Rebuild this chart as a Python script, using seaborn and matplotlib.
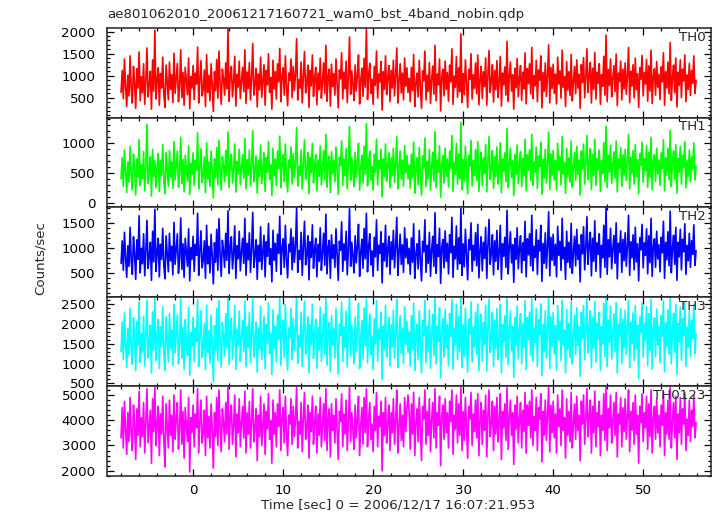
import numpy as np
import matplotlib
matplotlib.use("Agg")
import matplotlib.pyplot as plt
from matplotlib.ticker import MultipleLocator, AutoMinorLocator
import seaborn as sns

# light curve, 0.125 s bins starting at -8 s
t_start = -8.0
bin_width = 0.125

th0 = [620, 1120, 480, 1380, 760, 300, 1010, 540, 1450, 690, 380, 1210, 850, 260, 1160, 720,
       1540, 430, 980, 610, 1270, 350, 900, 1630, 520, 790, 1100, 240, 1360, 650, 2030, 470,
       880, 1180, 330, 1050, 720, 1420, 560, 280, 1240, 830, 450, 1310, 690, 1020, 390, 1510,
       600, 940, 1280, 410, 760, 1590, 500, 1070, 330, 1190, 870, 570, 1400, 250, 980, 720,
       1230, 460, 1060, 810, 1650, 380, 920, 1340, 540, 700, 1130, 300, 1480, 620, 1010, 430,
       1270, 780, 190, 1090, 660, 1370, 490, 1560, 820, 350, 1150, 930, 560, 1290, 700, 2050,
       420, 990, 1210, 520, 860, 1440, 310, 1030, 740, 1330, 480, 890, 1190, 640, 1590, 370,
       1080, 710, 1300, 450, 950, 1730, 560, 820, 1160, 290, 1040, 680, 1420, 510, 870, 1250,
       330, 1120, 790, 1500, 620, 960, 240, 1350, 700, 1090, 470, 1270, 860, 1620, 410, 980,
       1180, 560, 1450, 740, 320, 1060, 890, 1380, 500, 1210, 660, 1030, 1840, 450, 910, 720,
       1310, 380, 1000, 1550, 610, 830, 1240, 280, 1120, 770, 1470, 530, 950, 1190, 340, 1060,
       680, 1400, 490, 870, 1290, 600, 1690, 420, 990, 1150, 310, 1260, 750, 1050, 560, 1380,
       820, 270, 1130, 930, 1520, 470, 1080, 700, 1330, 390, 960, 1880, 580, 1110, 810, 440,
       1240, 650, 1020, 1470, 360, 890, 1170, 530, 1390, 740, 2070, 460, 1010, 1280, 600, 920,
       350, 1210, 780, 1560, 490, 1040, 860, 1320, 220, 1090, 690, 1450, 570, 950, 1230, 410,
       1120, 720, 1350, 540, 1000, 1630, 380, 870, 1270, 610, 1060, 450, 1400, 760, 1180, 620,
       940, 410, 1190, 660, 1480, 300, 830, 1060, 520, 1350, 720, 260, 1110, 880, 1560, 450,
       1010, 640, 1300, 370, 910, 1220, 580, 1690, 430, 1040, 790, 1380, 200, 970, 1150, 540,
       1330, 690, 1070, 420, 1240, 860, 1610, 350, 990, 740, 1430, 510, 1180, 630, 1950, 390,
       1050, 570, 1360, 800, 280, 1140, 920, 1500, 470, 1020, 710, 1290, 590, 1470, 340, 900,
       1210, 480, 1090, 750, 1400, 330, 1000, 1570, 620, 850, 1250, 400, 1120, 680, 1340, 510,
       870, 1440, 310, 1060, 790, 1200, 560, 1780, 420, 960, 1310, 650, 1020, 240, 1170, 730,
       1390, 520, 940, 1230, 440, 1080, 700, 1520, 360, 1160, 820, 1270, 590, 1640, 480, 1000,
       770, 1350, 410, 1130, 900, 1450, 270, 1070, 640, 1290, 530, 1010, 1700, 380, 1190, 710,
       1260, 600, 1040, 360, 1420, 810, 1110, 490, 1580, 740, 980, 300, 1320, 670, 1090, 550,
       1480, 430, 870, 1210, 590, 1360, 720, 1030, 260, 1250, 840, 1410, 500, 950, 1610, 620,
       1000, 1300, 380, 1170, 690, 1530, 470, 1080, 830, 1270, 350, 1020, 760, 1440, 560, 1920,
       410, 1140, 780, 1380, 520, 930, 1230, 640, 1490, 320, 1060, 870, 1330, 450, 1150, 700,
       1290, 580, 1010, 1640, 390, 1100, 760, 1250, 500, 1400, 680, 1050, 280, 1180, 920, 1460,
       540, 1070, 810, 1370, 420, 1220, 650, 1580, 370, 990, 1160, 560, 1320, 740, 1030, 460,
       1200, 860, 1520, 330, 1090, 720, 1310, 590, 1750, 440, 960, 1240, 610, 1400, 290, 1080,
       780, 1360, 500, 1150, 880, 1470, 410, 1020, 690, 1280, 550, 1120, 830, 1450, 600, 900]

th1 = [410, 760, 280, 890, 520, 180, 690, 350, 950, 470, 230, 820, 600, 140, 740, 430,
       1060, 300, 650, 410, 860, 210, 580, 1320, 330, 540, 780, 120, 900, 450, 710, 260,
       620, 830, 200, 720, 470, 980, 360, 160, 850, 560, 290, 880, 440, 690, 250, 1030,
       390, 640, 870, 270, 510, 1100, 330, 730, 190, 800, 590, 370, 960, 150, 670, 480,
       840, 300, 720, 550, 1180, 240, 620, 910, 350, 470, 770, 180, 1010, 410, 690, 280,
       870, 520, 90, 740, 430, 930, 310, 1050, 560, 220, 780, 630, 360, 880, 460, 1190,
       270, 680, 820, 340, 580, 990, 190, 700, 490, 900, 310, 610, 810, 420, 1080, 240,
       730, 470, 890, 290, 650, 1210, 360, 550, 790, 170, 710, 450, 970, 330, 590, 850,
       200, 760, 520, 1030, 400, 650, 130, 920, 460, 740, 300, 870, 580, 1120, 260, 670,
       810, 360, 990, 490, 190, 720, 600, 940, 320, 830, 430, 700, 1260, 290, 620, 470,
       890, 240, 680, 1060, 400, 560, 850, 160, 760, 510, 1000, 340, 650, 810, 210, 720,
       450, 960, 310, 590, 880, 390, 1150, 270, 670, 790, 180, 860, 500, 710, 360, 940,
       550, 150, 770, 630, 1040, 300, 740, 460, 910, 240, 650, 1280, 380, 760, 540, 280,
       850, 430, 690, 1000, 220, 600, 800, 340, 950, 490, 1330, 290, 680, 870, 390, 620,
       220, 820, 520, 1070, 310, 710, 580, 900, 110, 740, 450, 990, 370, 640, 840, 260,
       760, 470, 920, 350, 680, 1110, 240, 590, 870, 400, 720, 290, 960, 500, 800, 410,
       640, 250, 820, 430, 1020, 170, 560, 760, 310, 930, 480, 140, 790, 590, 1090, 280,
       700, 410, 900, 220, 620, 850, 370, 1200, 260, 720, 520, 960, 100, 660, 800, 340,
       920, 450, 740, 270, 870, 580, 1130, 200, 680, 490, 1000, 320, 820, 410, 1350, 230,
       730, 360, 950, 540, 160, 800, 620, 1050, 290, 710, 460, 900, 380, 1030, 200, 610,
       850, 300, 760, 500, 980, 190, 690, 1110, 400, 580, 880, 250, 780, 440, 940, 320,
       600, 1010, 180, 740, 530, 840, 360, 1250, 260, 660, 920, 430, 710, 130, 820, 480,
       970, 330, 650, 860, 280, 750, 460, 1070, 210, 810, 550, 890, 380, 1150, 300, 690,
       520, 940, 250, 790, 610, 1020, 150, 740, 420, 900, 340, 700, 1190, 230, 830, 470,
       880, 390, 720, 220, 1000, 550, 780, 310, 1110, 490, 680, 170, 920, 440, 760, 350,
       1040, 270, 600, 850, 380, 950, 480, 720, 140, 870, 570, 990, 320, 660, 1130, 400,
       690, 910, 230, 820, 460, 1070, 300, 750, 560, 890, 200, 710, 500, 1010, 360, 1290,
       260, 800, 520, 970, 330, 640, 860, 420, 1040, 190, 740, 590, 930, 280, 810, 460,
       900, 380, 700, 1150, 240, 770, 500, 880, 320, 980, 450, 730, 160, 830, 630, 1020,
       350, 750, 540, 960, 270, 850, 430, 1100, 230, 690, 810, 370, 920, 490, 720, 300,
       840, 580, 1060, 210, 760, 470, 920, 390, 1220, 280, 670, 870, 400, 980, 170, 750,
       520, 950, 320, 800, 600, 1030, 260, 710, 450, 890, 360, 780, 560, 1010, 390, 620]

th2 = [700, 1150, 560, 1320, 820, 420, 1050, 640, 1420, 760, 480, 1230, 900, 380, 1170, 780,
       1650, 510, 1000, 690, 1290, 450, 940, 1560, 600, 840, 1120, 360, 1340, 730, 1780, 540,
       920, 1200, 430, 1080, 780, 1400, 640, 390, 1250, 880, 530, 1300, 750, 1040, 470, 1520,
       680, 980, 1290, 500, 810, 1610, 580, 1090, 420, 1200, 910, 640, 1390, 350, 1010, 780,
       1240, 540, 1080, 860, 1700, 460, 950, 1350, 610, 760, 1150, 400, 1460, 690, 1040, 510,
       1280, 830, 290, 1110, 720, 1380, 560, 1590, 870, 440, 1160, 960, 620, 1300, 760, 1750,
       500, 1020, 1230, 590, 900, 1450, 400, 1050, 790, 1340, 550, 930, 1200, 700, 1600, 460,
       1100, 770, 1310, 520, 980, 1720, 620, 860, 1170, 380, 1060, 740, 1430, 580, 910, 1260,
       430, 1130, 840, 1500, 680, 990, 330, 1360, 760, 1100, 540, 1280, 900, 1640, 480, 1010,
       1190, 620, 1460, 790, 410, 1080, 930, 1390, 570, 1220, 720, 1050, 1810, 520, 950, 780,
       1320, 460, 1030, 1540, 670, 870, 1250, 370, 1130, 820, 1470, 600, 980, 1200, 430, 1080,
       740, 1410, 560, 910, 1300, 660, 1680, 490, 1010, 1160, 400, 1270, 800, 1070, 620, 1390,
       870, 360, 1140, 960, 1530, 540, 1090, 760, 1340, 470, 990, 1790, 640, 1120, 850, 510,
       1250, 710, 1040, 1480, 440, 920, 1180, 600, 1400, 790, 1700, 530, 1030, 1290, 670, 950,
       440, 1220, 830, 1570, 560, 1060, 900, 1330, 310, 1100, 750, 1460, 630, 980, 1240, 480,
       1130, 780, 1360, 610, 1020, 1620, 460, 910, 1280, 680, 1070, 520, 1410, 810, 1190, 690,
       1000, 480, 1210, 720, 1490, 400, 880, 1090, 590, 1360, 770, 350, 1140, 930, 1570, 520,
       1060, 700, 1320, 440, 960, 1240, 640, 1710, 500, 1070, 840, 1400, 300, 1020, 1180, 610,
       1350, 740, 1100, 490, 1270, 910, 1620, 420, 1040, 790, 1450, 580, 1210, 690, 1800, 460,
       1090, 630, 1380, 850, 370, 1170, 970, 1510, 540, 1060, 760, 1310, 650, 1480, 410, 950,
       1230, 550, 1120, 800, 1420, 400, 1050, 1580, 680, 900, 1270, 470, 1150, 740, 1360, 580,
       920, 1460, 380, 1090, 840, 1220, 620, 1760, 490, 1010, 1330, 710, 1070, 320, 1200, 780,
       1410, 590, 990, 1250, 510, 1110, 760, 1540, 430, 1190, 870, 1290, 650, 1660, 550, 1040,
       820, 1370, 480, 1160, 950, 1460, 340, 1100, 700, 1310, 600, 1050, 1730, 450, 1220, 760,
       1280, 660, 1080, 430, 1440, 860, 1140, 560, 1600, 790, 1020, 380, 1340, 720, 1120, 610,
       1500, 500, 920, 1240, 650, 1380, 780, 1070, 330, 1270, 890, 1430, 570, 1000, 1630, 680,
       1050, 1320, 450, 1200, 740, 1550, 540, 1110, 880, 1290, 420, 1060, 810, 1460, 620, 1820,
       480, 1170, 830, 1400, 590, 980, 1260, 700, 1510, 390, 1100, 920, 1350, 520, 1180, 750,
       1310, 640, 1050, 1660, 460, 1130, 810, 1270, 570, 1420, 730, 1090, 350, 1210, 970, 1480,
       610, 1110, 860, 1390, 490, 1250, 710, 1600, 440, 1030, 1190, 620, 1340, 790, 1070, 530,
       1220, 910, 1540, 400, 1120, 770, 1330, 650, 1740, 510, 1000, 1260, 680, 1420, 360, 1120,
       830, 1380, 570, 1180, 930, 1490, 480, 1060, 750, 1300, 620, 1150, 880, 1470, 660, 950]

th3 = [1300, 2050, 1100, 2280, 1520, 900, 1880, 1210, 2390, 1400, 980, 2160, 1640, 820, 2070, 1450,
       2560, 1030, 1760, 1290, 2200, 940, 1690, 2610, 1150, 1540, 1970, 760, 2310, 1350, 2680, 1080,
       1660, 2120, 880, 1930, 1430, 2440, 1220, 830, 2180, 1590, 1040, 2270, 1390, 1850, 950, 2500,
       1270, 1770, 2230, 990, 1490, 2650, 1130, 1910, 860, 2110, 1620, 1200, 2420, 700, 1780, 1420,
       2170, 1050, 1900, 1550, 2620, 930, 1700, 2340, 1160, 1400, 2020, 850, 2480, 1280, 1840, 1010,
       2220, 1510, 540, 1960, 1320, 2400, 1070, 2590, 1580, 910, 2040, 1710, 1190, 2260, 1390, 2700,
       980, 1810, 2150, 1110, 1620, 2470, 850, 1870, 1440, 2330, 1060, 1660, 2100, 1300, 2580, 920,
       1940, 1400, 2290, 1020, 1740, 2640, 1170, 1560, 2050, 780, 1880, 1360, 2450, 1100, 1640, 2200,
       870, 1990, 1520, 2530, 1250, 1770, 720, 2360, 1380, 1950, 1040, 2230, 1610, 2660, 960, 1800,
       2090, 1160, 2490, 1430, 830, 1900, 1660, 2400, 1090, 2150, 1330, 1850, 2690, 1010, 1700, 1420,
       2300, 930, 1820, 2580, 1240, 1580, 2180, 770, 1990, 1480, 2500, 1130, 1750, 2120, 880, 1910,
       1350, 2430, 1060, 1640, 2260, 1220, 2670, 960, 1800, 2040, 800, 2210, 1460, 1880, 1140, 2390,
       1570, 740, 2000, 1710, 2550, 1050, 1930, 1390, 2320, 920, 1760, 2690, 1190, 1970, 1530, 990,
       2180, 1300, 1840, 2520, 870, 1650, 2080, 1120, 2410, 1440, 2640, 1020, 1820, 2250, 1230, 1690,
       850, 2130, 1500, 2600, 1060, 1870, 1620, 2290, 600, 1950, 1370, 2480, 1170, 1740, 2170, 940,
       1990, 1420, 2350, 1130, 1800, 2630, 900, 1640, 2220, 1250, 1890, 1000, 2440, 1480, 2070, 1280,
       1820, 940, 2210, 1360, 2520, 830, 1630, 2000, 1110, 2330, 1460, 760, 2090, 1710, 2600, 1020,
       1950, 1300, 2360, 880, 1750, 2240, 1200, 2650, 990, 1950, 1560, 2410, 640, 1860, 2140, 1160,
       2370, 1390, 1990, 950, 2260, 1680, 2620, 860, 1890, 1470, 2500, 1100, 2190, 1300, 2700, 900,
       1980, 1180, 2400, 1570, 780, 2120, 1770, 2560, 1040, 1930, 1420, 2300, 1230, 2510, 820, 1730,
       2250, 1060, 2040, 1480, 2480, 810, 1900, 2630, 1280, 1650, 2290, 920, 2100, 1380, 2390, 1100,
       1700, 2490, 760, 1990, 1550, 2210, 1160, 2690, 970, 1830, 2330, 1330, 1940, 660, 2170, 1450,
       2450, 1120, 1810, 2260, 990, 2010, 1410, 2590, 850, 2160, 1610, 2300, 1220, 2640, 1060, 1880,
       1530, 2400, 930, 2110, 1740, 2510, 700, 2000, 1300, 2340, 1140, 1910, 2680, 880, 2200, 1420,
       2290, 1240, 1960, 840, 2470, 1590, 2070, 1070, 2600, 1470, 1850, 760, 2370, 1350, 2030, 1150,
       2560, 990, 1690, 2230, 1220, 2410, 1460, 1930, 680, 2290, 1640, 2470, 1100, 1820, 2640, 1270,
       1900, 2330, 890, 2170, 1380, 2570, 1030, 2030, 1620, 2300, 820, 1940, 1500, 2520, 1180, 2700,
       920, 2100, 1540, 2460, 1120, 1780, 2260, 1310, 2540, 760, 2000, 1700, 2390, 1000, 2130, 1400,
       2350, 1230, 1910, 2610, 900, 2050, 1510, 2280, 1080, 2470, 1370, 1970, 620, 2180, 1780, 2530,
       1160, 2020, 1590, 2440, 950, 2260, 1330, 2620, 860, 1880, 2150, 1170, 2380, 1470, 1950, 1020,
       2210, 1690, 2580, 790, 2030, 1440, 2360, 1230, 2670, 990, 1820, 2270, 1280, 2490, 720, 2020,
       1540, 2430, 1090, 2140, 1720, 2550, 930, 1930, 1410, 2330, 1170, 2090, 1640, 2510, 1250, 1760]

th0123 = [3300, 4500, 2900, 4750, 3700, 2650, 4300, 3150, 4900, 3500, 2800, 4600, 3850, 2450, 4450, 3400,
          5150, 2950, 4100, 3350, 4700, 2700, 3950, 5250, 3100, 3750, 4400, 2300, 4850, 3550, 5300, 3000,
          3900, 4550, 2600, 4250, 3450, 4950, 3200, 2150, 4650, 3800, 2900, 4800, 3400, 4200, 2750, 5000,
          3250, 4050, 4700, 2850, 3650, 5200, 3050, 4350, 2500, 4500, 3850, 3150, 4900, 1950, 4100, 3500,
          4600, 2950, 4250, 3700, 5250, 2700, 3950, 4800, 3100, 3550, 4400, 2600, 4950, 3300, 4150, 2900,
          4650, 3600, 2100, 4300, 3350, 4900, 3000, 5200, 3750, 2750, 4450, 3900, 3150, 4700, 3450, 5300,
          2850, 4150, 4600, 3050, 3800, 5000, 2550, 4250, 3500, 4850, 2950, 3900, 4550, 3300, 5150, 2700,
          4300, 3450, 4750, 2900, 3950, 5250, 3150, 3700, 4450, 2400, 4200, 3350, 4950, 3000, 3850, 4650,
          2650, 4350, 3650, 5050, 3250, 4000, 2300, 4800, 3450, 4300, 2950, 4650, 3750, 5200, 2800, 4100,
          4500, 3100, 4950, 3500, 2600, 4200, 3850, 4850, 3050, 4550, 3350, 4050, 5300, 2900, 3950, 3450,
          4700, 2750, 4100, 5100, 3250, 3700, 4600, 2500, 4300, 3550, 4950, 3050, 3950, 4550, 2700, 4250,
          3400, 4900, 2950, 3800, 4650, 3200, 5250, 2800, 4100, 4450, 2550, 4650, 3600, 4200, 3100, 4850,
          3700, 2450, 4350, 3950, 5050, 2950, 4250, 3450, 4800, 2800, 3950, 5300, 3150, 4300, 3650, 2850,
          4600, 3300, 4050, 4950, 2600, 3800, 4500, 3050, 4900, 3500, 5250, 2950, 4000, 4700, 3250, 3850,
          2750, 4550, 3600, 5100, 2950, 4150, 3750, 4750, 2000, 4300, 3400, 4900, 3100, 3900, 4600, 2800,
          4300, 3500, 4850, 3050, 4000, 5200, 2700, 3750, 4650, 3200, 4200, 2950, 4900, 3550, 4450, 5000,
          4250, 2850, 4650, 3450, 5100, 2600, 3900, 4450, 3150, 4900, 3650, 2400, 4550, 4050, 5200, 3050,
          4350, 3400, 4850, 2750, 4000, 4700, 3300, 5250, 2900, 4300, 3800, 4950, 2200, 4150, 4600, 3250,
          4850, 3500, 4300, 2900, 4750, 3950, 5200, 2650, 4200, 3650, 5000, 3100, 4650, 3400, 5300, 2800,
          4350, 3200, 4900, 3750, 2500, 4550, 4050, 5100, 3000, 4250, 3550, 4800, 3300, 5050, 2600, 4000,
          4700, 3050, 4400, 3600, 5000, 2550, 4150, 5200, 3350, 3900, 4750, 2800, 4550, 3450, 4900, 3150,
          3950, 5050, 2450, 4350, 3700, 4650, 3200, 5300, 2850, 4100, 4800, 3400, 4300, 2250, 4600, 3650,
          4950, 3100, 4000, 4700, 2900, 4400, 3550, 5100, 2700, 4600, 3800, 4750, 3300, 5200, 3000, 4150,
          3600, 4900, 2800, 4500, 4050, 5050, 2350, 4350, 3400, 4800, 3200, 4250, 5300, 2750, 4600, 3500,
          4750, 3300, 4250, 2700, 5000, 3750, 4450, 3000, 5200, 3600, 4100, 2500, 4850, 3400, 4350, 3150,
          5100, 2900, 3850, 4650, 3250, 4950, 3600, 4200, 2400, 4750, 3850, 5000, 3050, 4050, 5250, 3350,
          4150, 4800, 2700, 4550, 3500, 5150, 2950, 4300, 3750, 4750, 2600, 4200, 3600, 5050, 3200, 5300,
          2800, 4450, 3700, 5000, 3100, 3950, 4700, 3400, 5100, 2550, 4250, 3850, 4900, 2950, 4500, 3550,
          4850, 3250, 4150, 5200, 2750, 4350, 3600, 4700, 3050, 5000, 3450, 4200, 2300, 4550, 3900, 5050,
          3150, 4300, 3700, 4950, 2850, 4650, 3350, 5200, 2700, 4050, 4550, 3250, 4850, 3500, 4200, 2950,
          4600, 3800, 5150, 2600, 4300, 3450, 4800, 3250, 5300, 2900, 3950, 4700, 3300, 4950, 2450, 4250,
          3500, 4900, 3050, 4450, 3850, 5100, 2800, 4050, 3400, 4800, 3150, 4400, 3750, 5000, 3300, 3900]

bands = ["TH0", "TH1", "TH2", "TH3", "TH0123"]
series = [th0, th1, th2, th3, th0123]
colors = ["#ff0000", "#00ff00", "#0000ff", "#00ffff", "#ff00ff"]
ylims = [(48, 2083), (-65, 1430), (30, 1822), (422, 2690), (1790, 5341)]
ysteps = [500, 500, 500, 500, 1000]

sns.set_style("ticks")
plt.rcParams['font.family'] = ['DejaVu Sans']
fs = 9.6

fig, axes = plt.subplots(5, 1, sharex=True, figsize=(7.17, 5.16), dpi=100)
fig.subplots_adjust(left=0.1488, right=0.9912, top=0.9457, bottom=0.0775, hspace=0)

time = t_start + bin_width * np.arange(len(th0))

for ax, name, vals, col, yl, st in zip(axes, bands, series, colors, ylims, ysteps):
    sns.lineplot(x=time, y=vals, ax=ax, color=col, lw=1.2, estimator=None)
    ax.set_ylim(*yl)
    ax.set_xlim(-9.6, 57.5)
    ax.yaxis.set_major_locator(MultipleLocator(st))
    ax.yaxis.set_minor_locator(AutoMinorLocator(5))
    ax.xaxis.set_major_locator(MultipleLocator(10))
    ax.xaxis.set_minor_locator(AutoMinorLocator(5))
    ax.tick_params(which='both', direction='in', top=True, right=True,
                   labelsize=fs, colors='black', width=0.9)
    ax.tick_params(which='major', length=5, pad=6)
    ax.tick_params(which='minor', length=2.5)
    ax.tick_params(axis='y', pad=8)
    for sp in ax.spines.values():
        sp.set_linewidth(1.1)
        sp.set_color('#222222')
    ax.set_ylabel('')
    ax.text(0.992, 0.97, name, transform=ax.transAxes, ha='right', va='top', fontsize=fs)

axes[-1].set_xlabel('')
fig.text(0.149, 0.972, "ae801062010_20061217160721_wam0_bst_4band_nobin.qdp",
         ha='left', va='center', fontsize=fs)
fig.text(0.056, 0.5, "Counts/sec", rotation=90, ha='center', va='center', fontsize=fs)
fig.text(0.555, 0.021, "Time [sec] 0 = 2006/12/17 16:07:21.953",
         ha='center', va='center', fontsize=fs)

fig.savefig("out.png", dpi=100, facecolor='white')
